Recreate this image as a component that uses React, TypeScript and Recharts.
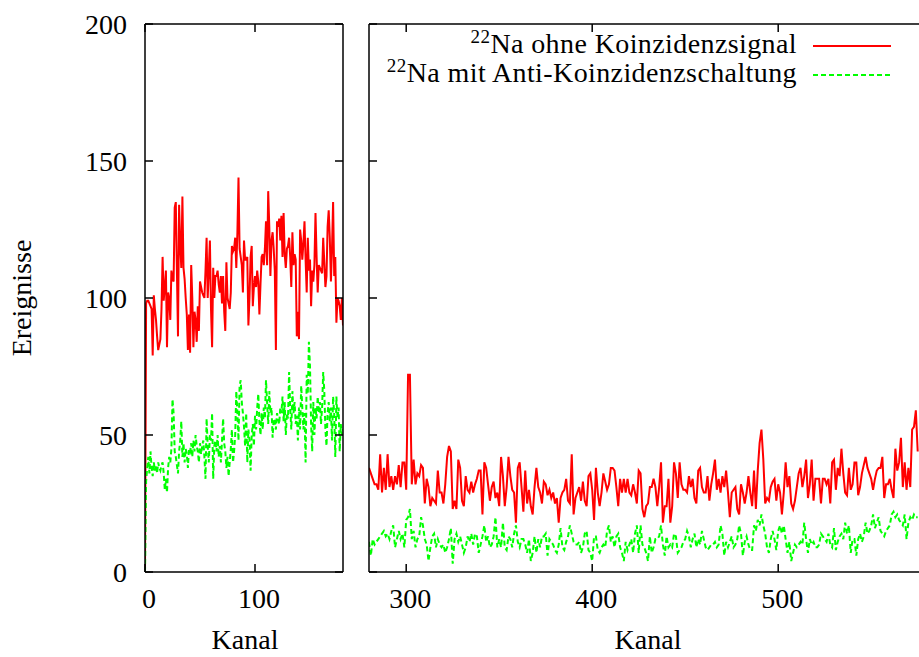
import React from "react";
import { LineChart, Line, XAxis, YAxis } from "recharts";

// Kanal 0..180 (linkes Feld)
const linksOhne = [
  0, 98, 99, 99, 98, 97, 96, 79, 101, 96,
  92, 86, 81, 83, 85, 96, 115, 99, 104, 110,
  82, 102, 100, 92, 110, 107, 106, 133, 135, 110,
  86, 134, 120, 111, 137, 111, 107, 100, 94, 81,
  94, 80, 112, 100, 82, 95, 92, 84, 97, 88,
  106, 104, 102, 101, 100, 110, 122, 100, 110, 121,
  96, 82, 111, 100, 108, 108, 110, 105, 102, 108,
  98, 108, 95, 88, 113, 100, 98, 96, 102, 119,
  117, 118, 122, 111, 124, 144, 118, 115, 112, 102,
  121, 114, 114, 115, 90, 100, 115, 119, 97, 104,
  108, 104, 110, 106, 94, 105, 115, 116, 112, 118,
  128, 112, 139, 126, 108, 121, 124, 118, 110, 81,
  128, 126, 129, 121, 130, 115, 131, 116, 111, 118,
  119, 122, 115, 104, 124, 112, 116, 114, 86, 95,
  85, 125, 121, 114, 120, 128, 114, 102, 122, 110,
  114, 97, 110, 106, 112, 131, 115, 102, 112, 111,
  110, 109, 122, 113, 104, 108, 126, 132, 122, 106,
  118, 135, 108, 115, 91, 100, 99, 97, 92, 100,
  90,
];

const linksAnti = [
  0, 33, 38, 42, 36, 44, 38, 35, 40, 37,
  39, 36, 40, 38, 37, 39, 40, 36, 30, 34,
  29, 38, 42, 40, 45, 63, 58, 44, 42, 39,
  36, 44, 48, 55, 42, 47, 40, 45, 43, 38,
  45, 44, 47, 42, 48, 44, 50, 46, 44, 40,
  47, 43, 46, 48, 42, 34, 56, 46, 40, 50,
  48, 58, 34, 46, 48, 44, 50, 42, 46, 40,
  48, 56, 47, 44, 38, 42, 35, 40, 45, 52,
  40, 44, 50, 66, 58, 48, 68, 70, 62, 58,
  53, 46, 58, 40, 52, 48, 37, 50, 54, 46,
  57, 52, 60, 65, 55, 50, 58, 52, 60, 56,
  70, 62, 54, 66, 58, 60, 49, 56, 55, 52,
  58, 56, 54, 60, 58, 64, 55, 62, 50, 58,
  56, 73, 60, 52, 66, 58, 62, 54, 57, 48,
  60, 52, 68, 60, 52, 58, 40, 72, 65, 84,
  75, 54, 44, 62, 50, 60, 56, 64, 58, 62,
  54, 60, 73, 66, 52, 46, 58, 62, 55, 60,
  48, 64, 58, 42, 64, 56, 60, 44, 54, 50,
  52,
];

// Kanal 280..575 (rechtes Feld)
const rechtsOhne = [
  38, 36, 34, 32, 32, 30, 43, 29, 38, 30,
  43, 31, 35, 30, 35, 32, 39, 31, 40, 40,
  30, 72, 72, 32, 41, 32, 36, 35, 39, 38,
  25, 34, 31, 24, 27, 26, 25, 37, 29, 29,
  25, 32, 42, 46, 44, 23, 26, 23, 41, 38,
  26, 24, 35, 30, 29, 33, 29, 32, 34, 37,
  37, 21, 40, 38, 32, 26, 31, 33, 27, 29,
  24, 42, 35, 24, 31, 42, 35, 30, 29, 18,
  38, 40, 31, 22, 37, 25, 30, 24, 21, 31,
  38, 31, 29, 25, 33, 32, 28, 30, 27, 29,
  25, 27, 18, 27, 29, 30, 34, 26, 25, 43,
  21, 27, 29, 31, 26, 33, 26, 24, 35, 36,
  30, 19, 38, 29, 24, 29, 36, 33, 30, 32,
  38, 38, 37, 31, 24, 34, 29, 34, 29, 34,
  29, 28, 32, 29, 25, 37, 36, 23, 20, 24,
  25, 31, 31, 34, 31, 24, 31, 40, 18, 24,
  24, 34, 18, 24, 40, 36, 27, 40, 32, 30,
  30, 29, 35, 31, 34, 27, 25, 37, 38, 31,
  29, 29, 35, 26, 32, 36, 41, 30, 34, 29,
  35, 31, 37, 29, 20, 29, 30, 31, 23, 21,
  32, 29, 25, 29, 35, 29, 24, 37, 23, 37,
  47, 52, 41, 25, 27, 26, 31, 33, 34, 26,
  32, 29, 21, 29, 40, 31, 35, 25, 23, 26,
  31, 36, 38, 31, 35, 41, 27, 32, 41, 26,
  34, 34, 34, 25, 34, 34, 32, 34, 25, 40,
  41, 30, 38, 35, 45, 36, 29, 28, 38, 30,
  32, 40, 40, 28, 31, 36, 39, 42, 38, 36,
  34, 30, 34, 37, 38, 38, 42, 27, 32, 32,
  34, 30, 27, 45, 37, 40, 49, 31, 40, 30,
  38, 31, 52, 53, 59, 44,
];

const rechtsAnti = [
  11, 6, 12, 10, 11, 12, 13, 14, 15, 13,
  14, 12, 15, 17, 9, 12, 15, 12, 14, 9,
  19, 20, 23, 12, 15, 9, 12, 13, 20, 17,
  12, 10, 4, 9, 13, 14, 9, 12, 10, 9,
  10, 7, 9, 12, 16, 3, 12, 14, 11, 13,
  10, 7, 9, 13, 11, 14, 10, 14, 13, 7,
  10, 13, 17, 11, 13, 9, 10, 13, 20, 9,
  12, 9, 18, 9, 8, 13, 12, 9, 14, 17,
  11, 9, 12, 12, 10, 7, 12, 4, 7, 13,
  7, 12, 9, 13, 13, 14, 6, 12, 11, 10,
  8, 7, 10, 16, 9, 8, 11, 13, 17, 14,
  11, 10, 10, 11, 7, 9, 14, 15, 8, 7,
  4, 13, 13, 8, 7, 9, 10, 9, 15, 17,
  11, 13, 9, 13, 14, 9, 7, 4, 11, 8,
  10, 12, 7, 14, 17, 7, 17, 10, 9, 7,
  4, 13, 7, 9, 12, 12, 13, 17, 10, 6,
  13, 9, 10, 9, 14, 13, 7, 8, 9, 11,
  12, 15, 13, 9, 12, 14, 9, 12, 10, 15,
  12, 9, 8, 9, 10, 10, 11, 9, 10, 17,
  14, 6, 11, 9, 11, 13, 9, 10, 12, 17,
  14, 6, 11, 13, 10, 8, 8, 17, 15, 19,
  17, 21, 17, 14, 9, 7, 12, 15, 12, 8,
  15, 17, 14, 17, 12, 7, 11, 4, 7, 10,
  9, 10, 11, 10, 18, 12, 7, 12, 10, 11,
  9, 9, 10, 14, 13, 12, 11, 14, 10, 9,
  16, 8, 11, 13, 14, 12, 18, 14, 17, 7,
  12, 12, 6, 12, 14, 11, 13, 18, 14, 15,
  17, 21, 16, 18, 20, 15, 14, 13, 15, 16,
  17, 21, 22, 20, 21, 19, 18, 17, 21, 12,
  18, 20, 19, 21, 20, 20,
];

const linksStart = 0;
const rechtsStart = 280;
const linksTicks = [0, 100];
const rechtsTicks = [300, 400, 500];
const yTicks = [0, 50, 100, 150, 200];

const linksDaten = linksOhne.map((v, i) => ({ kanal: linksStart + i, ohne: v, anti: linksAnti[i] }));
const rechtsDaten = rechtsOhne.map((v, i) => ({ kanal: rechtsStart + i, ohne: v, anti: rechtsAnti[i] }));

const FONT = '"Liberation Serif", "Times New Roman", serif';
const FS = 28;
const ROT = "#ff0000";
const GRUEN = "#00ff00";
const achse = { stroke: "#000", strokeWidth: 1.5 };

const Leer = () => <g />;

const XTick = (p: any) => (
  <text x={p.x + 4} y={p.y + 18} textAnchor="middle" fontFamily={FONT} fontSize={FS} fill="#000">
    {p.payload.value}
  </text>
);

const YTick = (p: any) => (
  <text x={p.x} y={p.y} dy="0.34em" textAnchor="end" fontFamily={FONT} fontSize={FS} fill="#000">
    {p.payload.value}
  </text>
);

function Feld({ daten, domain, ticks, width, yWidth, yLabels }: any) {
  return (
    <LineChart width={width} height={657} data={daten} margin={{ top: 23, right: 0, bottom: 0, left: 0 }}>
      <XAxis xAxisId="b" dataKey="kanal" type="number" domain={domain} ticks={ticks} allowDataOverflow
        height={85} tickSize={-8} tickMargin={26} axisLine={achse} tickLine={achse} tick={<XTick />} />
      <XAxis xAxisId="t" orientation="top" dataKey="kanal" type="number" domain={domain} ticks={ticks} allowDataOverflow
        height={1} tickSize={-8} axisLine={achse} tickLine={achse} tick={<Leer />} />
      <YAxis yAxisId="l" type="number" domain={[0, 200]} ticks={yTicks} allowDataOverflow width={yWidth}
        tickSize={-8} tickMargin={26} axisLine={achse} tickLine={achse} tick={yLabels ? <YTick /> : <Leer />} />
      <YAxis yAxisId="r" orientation="right" type="number" domain={[0, 200]} ticks={yTicks} allowDataOverflow width={2}
        tickSize={-8} axisLine={achse} tickLine={achse} tick={<Leer />} />
      <Line xAxisId="b" yAxisId="l" dataKey="ohne" stroke={ROT} strokeWidth={2} dot={false} isAnimationActive={false} />
      <Line xAxisId="b" yAxisId="l" dataKey="anti" stroke={GRUEN} strokeWidth={2} strokeDasharray="5 3" dot={false} isAnimationActive={false} />
    </LineChart>
  );
}

export default function App() {
  return (
    <div style={{ position: "fixed", left: 0, top: 0, width: 919, height: 657, overflow: "hidden", background: "#fff" }}>
      <div style={{ position: "absolute", left: 0, top: 0 }}>
        <Feld daten={linksDaten} domain={[0, 180]} ticks={linksTicks} width={345} yWidth={145} yLabels />
      </div>
      <div style={{ position: "absolute", left: 345, top: 0 }}>
        <Feld daten={rechtsDaten} domain={[280, 580]} ticks={rechtsTicks} width={584} yWidth={24} yLabels={false} />
      </div>
      <svg width={919} height={657} style={{ position: "absolute", left: 0, top: 0, pointerEvents: "none" }}
        fontFamily={FONT} fontSize={FS} fill="#000">
        <text transform="translate(31,298) rotate(-90)" textAnchor="middle">Ereignisse</text>
        <text x={245} y={649} textAnchor="middle">Kanal</text>
        <text x={648} y={649} textAnchor="middle">Kanal</text>
        <g letterSpacing={0.4}>
          <text x={797} y={53} textAnchor="end">
            <tspan fontSize={19} dy={-10}>22</tspan>
            <tspan dy={10}>Na ohne Koinzidenzsignal</tspan>
          </text>
          <text x={797} y={82} textAnchor="end">
            <tspan fontSize={19} dy={-10}>22</tspan>
            <tspan dy={10}>Na mit Anti-Koinzidenzschaltung</tspan>
          </text>
        </g>
        <line x1={813} x2={891} y1={46} y2={46} stroke={ROT} strokeWidth={2} />
        <line x1={813} x2={891} y1={75} y2={75} stroke={GRUEN} strokeWidth={2} strokeDasharray="5 3" />
      </svg>
    </div>
  );
}
